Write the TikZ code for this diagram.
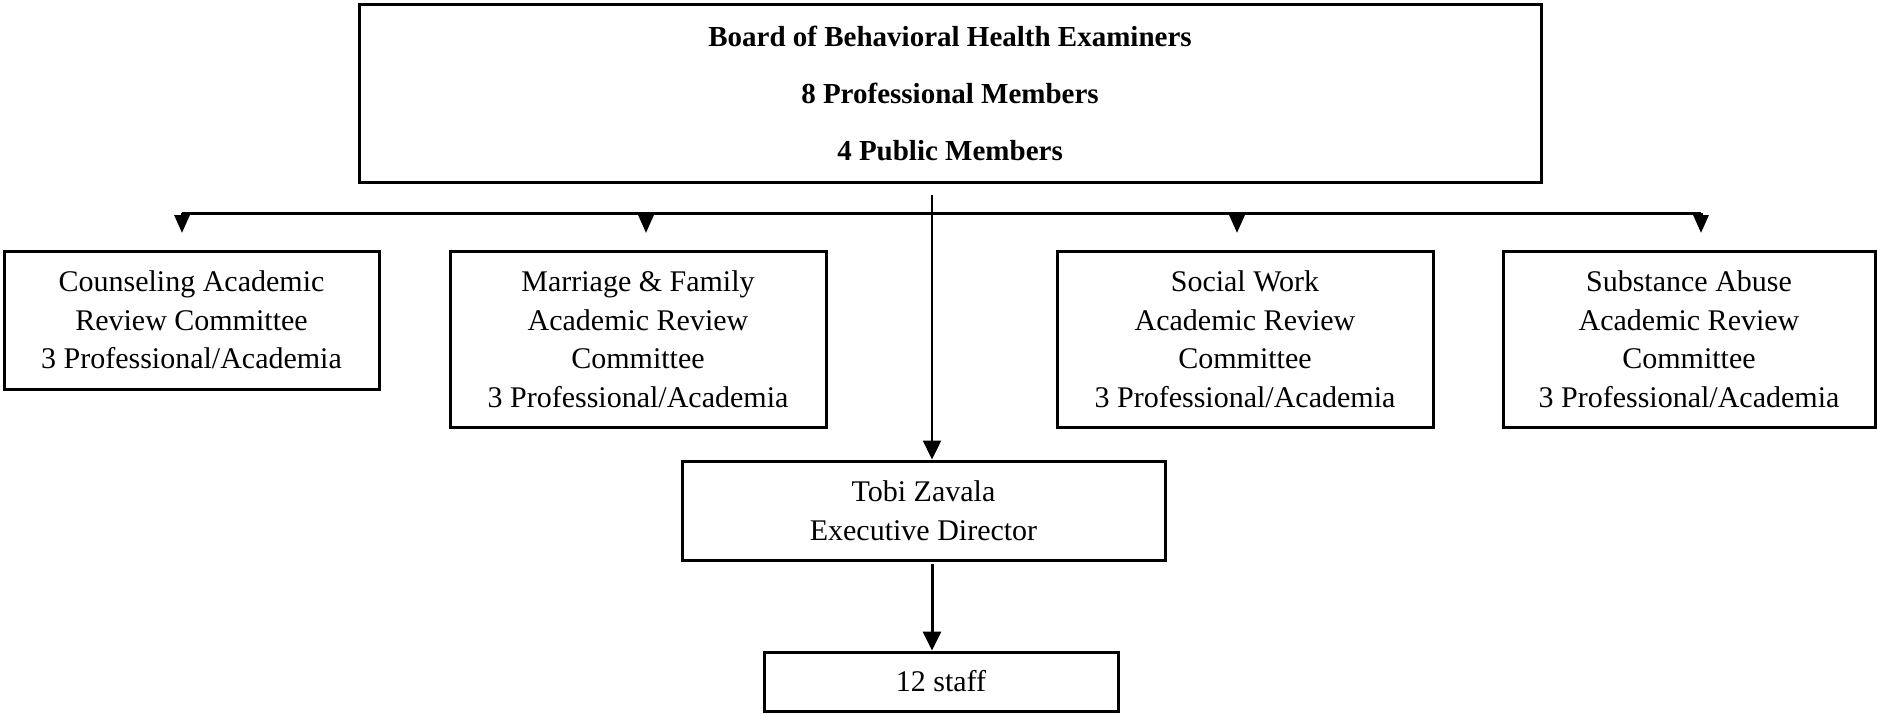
\documentclass[tikz,border=0pt]{standalone}
\usepackage{fontspec}
\setmainfont{Liberation Serif}
\usetikzlibrary{arrows.meta}
\begin{document}
\begin{tikzpicture}[x=0.5pt,y=-0.5pt,
  box/.style={draw, line width=1.5pt, inner sep=0pt, align=center,
    font=\fontsize{15}{19.25}\selectfont},
  topbox/.style={box, font=\fontsize{14.5}{28.5}\selectfont\bfseries},
  conn/.style={line width=1.5pt},
  smallarr/.style={conn, -{Triangle[width=7.5pt,length=9pt]}},
  bigarr/.style={conn, -{Triangle[width=9pt,length=9.5pt]}}]
\useasboundingbox (0,0) rectangle (1877,713);
% boxes
\node[topbox, minimum width=591pt, minimum height=89pt] (board) at (950,93)
  {Board of Behavioral Health Examiners\\8 Professional Members\\4 Public Members};
\node[box, minimum width=187.5pt, minimum height=69pt] (c1) at (191.5,320)
  {Counseling Academic\\Review Committee\\3 Professional/Academia};
\node[box, minimum width=188pt, minimum height=88pt] (c2) at (638,339)
  {Marriage \& Family\\Academic Review\\Committee\\3 Professional/Academia};
\node[box, minimum width=188pt, minimum height=88pt] (c3) at (1245,339)
  {Social Work\\Academic Review\\Committee\\3 Professional/Academia};
\node[box, minimum width=186pt, minimum height=88pt] (c4) at (1689,339)
  {Substance Abuse\\Academic Review\\Committee\\3 Professional/Academia};
\node[box, minimum width=241.5pt, minimum height=49.5pt] (tobi) at (923.5,510.5)
  {Tobi Zavala\\Executive Director};
\node[box, minimum width=177pt, minimum height=29.5pt] (staff) at (941,681.5)
  {12 staff};
% coordinates
\coordinate (hL) at (182,213);
\coordinate (hR) at (1701,213);
\coordinate (v1) at (932,195);
\coordinate (v2) at (932,564);
\coordinate (a1) at (182,233);
\coordinate (b2) at (646,213);
\coordinate (a2) at (646,233);
\coordinate (b3) at (1237,213);
\coordinate (a3) at (1237,233);
\coordinate (a4) at (1701,233);
% connectors
\draw[conn] (hL) -- (hR);
\draw[smallarr] (hL) -- (a1);
\draw[smallarr] (b2) -- (a2);
\draw[smallarr] (b3) -- (a3);
\draw[smallarr] (hR) -- (a4);
\draw[bigarr, line width=1.2pt] (v1) -- (v1 |- tobi.north);
\draw[bigarr] (v2) -- (v2 |- staff.north);
\end{tikzpicture}
\end{document}
